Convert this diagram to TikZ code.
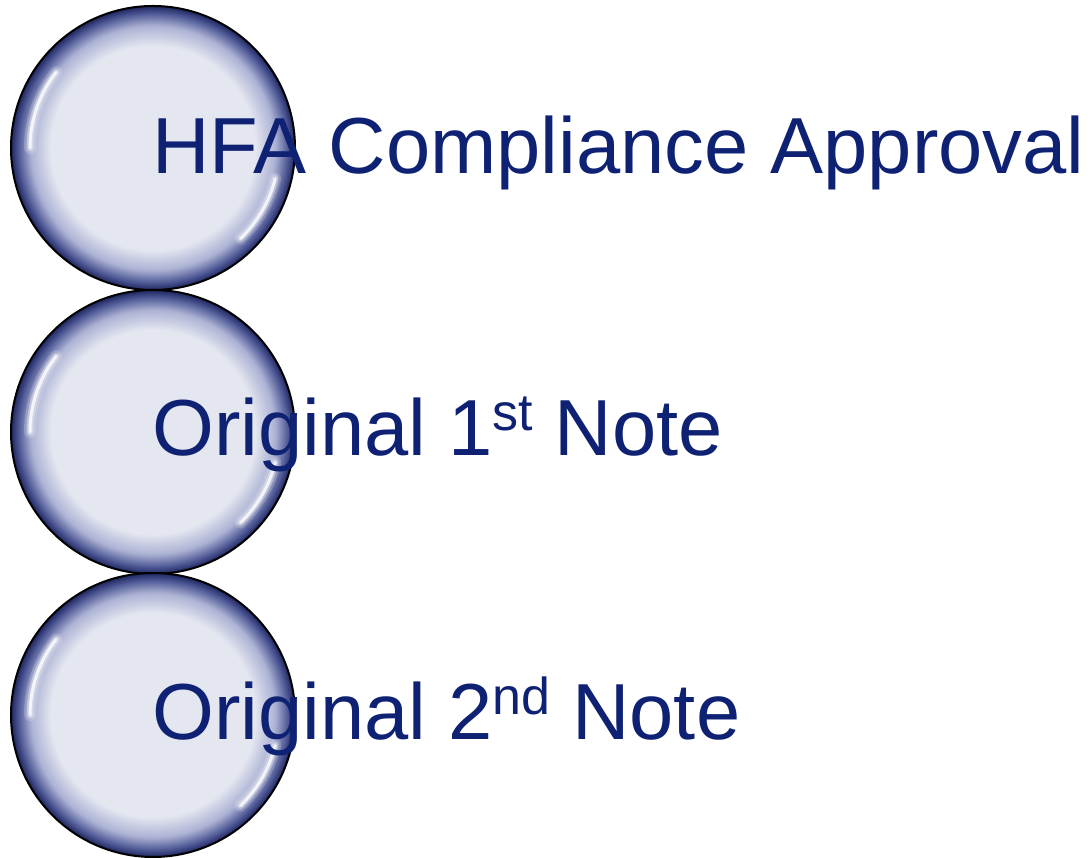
\documentclass[tikz,border=0pt]{standalone}
\usepackage{tikz}
\usetikzlibrary{positioning}
\usepackage{fontspec}
\setmainfont{Liberation Sans}
\usepackage{xcolor}
\definecolor{orbfill}{RGB}{228,230,240}
\definecolor{orbmid}{RGB}{172,178,212}
\definecolor{orbring}{RGB}{80,90,150}
\definecolor{orbedge}{RGB}{30,38,96}
\definecolor{notetext}{RGB}{14,33,115}
\pgfdeclareradialshading{orbshade}{\pgfpointorigin}{%
	color(0bp)=(orbfill); color(18bp)=(orbfill); color(21.5bp)=(orbmid);
	color(23.7bp)=(orbring); color(25bp)=(orbedge); color(50bp)=(orbedge)}
\newcommand{\ordsup}[1]{\raisebox{25pt}{\fontsize{52}{52}\selectfont #1}}
\tikzset{%
	orb/.style={
		circle,
		draw=black,
		line width=2pt,
		shade,
		shading=orbshade,
		inner sep=0pt,
		minimum size=284pt
	},
	glint wide/.style={
		draw=white,
		line width=12pt,
		line cap=round,
		opacity=0.18
	},
	glint soft/.style={
		draw=white,
		line width=7pt,
		line cap=round,
		opacity=0.35
	},
	glint/.style={
		draw=white,
		line width=3pt,
		line cap=round,
		opacity=0.8
	},
	note/.style={
		anchor=base west,
		inner sep=0pt,
		text=notetext,
		font=\fontsize{79.5}{96}\selectfont
	},
}

\begin{document}
\begin{tikzpicture}[x=1pt,y=1pt]
	\useasboundingbox (0,0) rectangle (1091,858);
	
	% Draw the three circles
	\node[orb] (orb1) at (153,710) {};
	\node[orb] (orb2) at (153,426) {};
	\node[orb] (orb3) at (153,143) {};
	
	% Draw the highlights
	\draw[glint wide] (orb1.center) ++(142:123) arc[start angle=142, end angle=180, radius=123];
	\draw[glint soft] (orb1.center) ++(142:123) arc[start angle=142, end angle=180, radius=123];
	\draw[glint] (orb1.center) ++(142:123) arc[start angle=142, end angle=180, radius=123];
	\draw[glint wide] (orb1.center) ++(-14:126) arc[start angle=-14, end angle=-46, radius=126];
	\draw[glint soft] (orb1.center) ++(-14:126) arc[start angle=-14, end angle=-46, radius=126];
	\draw[glint] (orb1.center) ++(-14:126) arc[start angle=-14, end angle=-46, radius=126];
	
	\draw[glint wide] (orb2.center) ++(142:123) arc[start angle=142, end angle=180, radius=123];
	\draw[glint soft] (orb2.center) ++(142:123) arc[start angle=142, end angle=180, radius=123];
	\draw[glint] (orb2.center) ++(142:123) arc[start angle=142, end angle=180, radius=123];
	\draw[glint wide] (orb2.center) ++(-14:126) arc[start angle=-14, end angle=-46, radius=126];
	\draw[glint soft] (orb2.center) ++(-14:126) arc[start angle=-14, end angle=-46, radius=126];
	\draw[glint] (orb2.center) ++(-14:126) arc[start angle=-14, end angle=-46, radius=126];
	
	\draw[glint wide] (orb3.center) ++(142:123) arc[start angle=142, end angle=180, radius=123];
	\draw[glint soft] (orb3.center) ++(142:123) arc[start angle=142, end angle=180, radius=123];
	\draw[glint] (orb3.center) ++(142:123) arc[start angle=142, end angle=180, radius=123];
	\draw[glint wide] (orb3.center) ++(-14:126) arc[start angle=-14, end angle=-46, radius=126];
	\draw[glint soft] (orb3.center) ++(-14:126) arc[start angle=-14, end angle=-46, radius=126];
	\draw[glint] (orb3.center) ++(-14:126) arc[start angle=-14, end angle=-46, radius=126];
	
	% Draw the labels
	\node[note, xshift=-1pt, yshift=-26pt] (approval) at (orb1.center) {HFA Compliance Approval};
	\node[note, xshift=-1pt, yshift=-24pt] (first) at (orb2.center) {Original 1\ordsup{st} Note};
	\node[note, xshift=-1pt, yshift=-25pt] (second) at (orb3.center) {Original 2\ordsup{nd} Note};
	
\end{tikzpicture}
\end{document}
